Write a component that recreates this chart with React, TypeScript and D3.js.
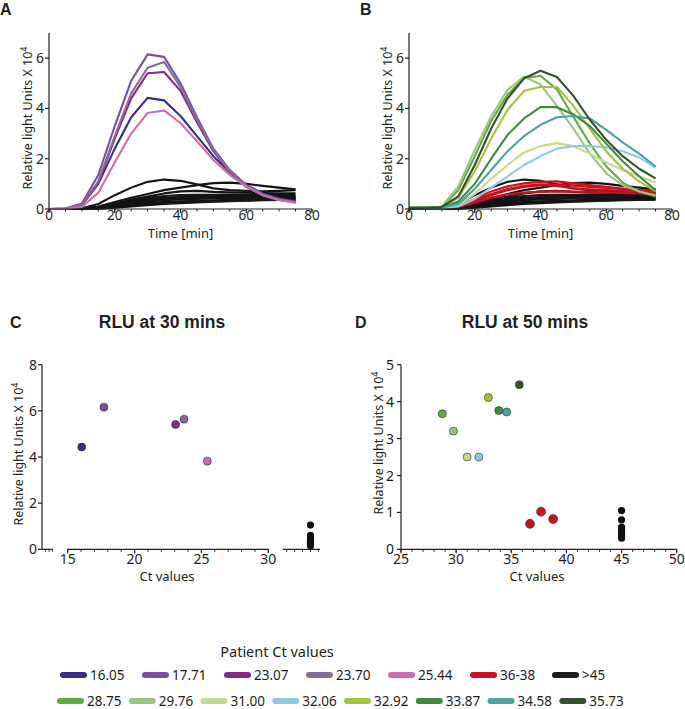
import React from 'react';
import * as d3 from 'd3';

// ---------------- DATA ----------------
const times = [0, 5, 10, 15, 20, 25, 30, 35, 40, 45, 50, 55, 60, 65, 70, 75];

// Panel A: high-viral-load patients
const aLabels = ['16.05', '17.71', '23.07', '23.70', '25.44'];
const aColors = ['#3b2c88', '#7b4ea6', '#86288a', '#8a6b95', '#cc6cae'];
const aValues = [
  [0, 0.01, 0.15, 1.0, 2.4, 3.65, 4.42, 4.32, 3.7, 2.9, 2.1, 1.45, 0.95, 0.62, 0.42, 0.32],
  [0, 0.02, 0.22, 1.35, 3.3, 5.1, 6.15, 6.05, 5.0, 3.65, 2.4, 1.55, 0.95, 0.6, 0.4, 0.28],
  [0, 0.02, 0.17, 1.05, 2.8, 4.4, 5.4, 5.45, 4.7, 3.45, 2.3, 1.45, 0.88, 0.55, 0.37, 0.26],
  [0, 0.02, 0.17, 1.1, 2.9, 4.6, 5.62, 5.85, 4.85, 3.55, 2.35, 1.5, 0.9, 0.55, 0.38, 0.27],
  [0, 0.01, 0.08, 0.65, 1.85, 3.0, 3.82, 3.92, 3.42, 2.7, 1.95, 1.35, 0.9, 0.55, 0.35, 0.25],
];

// Panel B: lower-viral-load patients
const bLabels = ['28.75', '29.76', '31.00', '32.06', '32.92', '33.87', '34.58', '35.73'];
const bColors = ['#62ab3f', '#98c584', '#c5da8b', '#8ecbe2', '#a5c23a', '#3f8a3f', '#4aa3a0', '#36502a'];
const bValues = [
  [0.05, 0.05, 0.08, 0.75, 2.1, 3.5, 4.55, 5.2, 5.3, 4.75, 3.67, 2.6, 1.7, 1.05, 0.7, 0.5],
  [0.05, 0.05, 0.1, 0.89, 2.35, 3.68, 4.74, 5.27, 4.95, 4.1, 3.2, 2.2, 1.42, 0.95, 0.7, 0.55],
  [0.05, 0.05, 0.05, 0.15, 0.6, 1.2, 1.75, 2.25, 2.5, 2.62, 2.5, 2.2, 1.85, 1.55, 1.3, 1.05],
  [0.05, 0.05, 0.05, 0.1, 0.4, 0.85, 1.3, 1.75, 2.1, 2.4, 2.5, 2.5, 2.45, 2.3, 2.05, 1.65],
  [0.05, 0.05, 0.08, 0.45, 1.5, 2.8, 3.95, 4.7, 4.85, 4.85, 4.1, 3.2, 2.3, 1.6, 1.1, 0.7],
  [0.05, 0.05, 0.06, 0.3, 1.0, 2.0, 2.95, 3.6, 4.05, 4.05, 3.76, 3.3, 2.6, 1.9, 1.3, 0.75],
  [0.05, 0.05, 0.05, 0.2, 0.8, 1.55, 2.3, 2.9, 3.35, 3.65, 3.7, 3.6, 3.15, 2.65, 2.2, 1.69],
  [0.05, 0.05, 0.08, 0.5, 1.75, 3.2, 4.4, 5.2, 5.5, 5.25, 4.5, 3.55, 2.75, 2.1, 1.6, 1.22],
];

// Ct 36-38 (red) curves
const redColor = '#cc1020';
const redValues = [
  [0, 0, 0.02, 0.12, 0.4, 0.7, 0.9, 1.02, 1.08, 1.1, 1.02, 0.95, 0.88, 0.8, 0.72, 0.65],
  [0, 0, 0.02, 0.1, 0.3, 0.55, 0.75, 0.88, 0.95, 0.92, 0.82, 0.78, 0.75, 0.72, 0.7, 0.68],
  [0, 0, 0.01, 0.08, 0.25, 0.45, 0.58, 0.65, 0.68, 0.7, 0.69, 0.68, 0.66, 0.64, 0.62, 0.6],
  [0, 0, 0.02, 0.1, 0.35, 0.6, 0.8, 0.92, 0.98, 0.97, 0.93, 0.88, 0.84, 0.8, 0.75, 0.7],
];

// Ct >45 (black) curves
const blackColor = '#141414';
const blackValues = [
  [0, 0, 0.03, 0.2, 0.55, 0.85, 1.08, 1.17, 1.12, 0.98, 0.82, 0.75, 0.72, 0.7, 0.72, 0.75],
  [0, 0, 0.02, 0.1, 0.28, 0.45, 0.6, 0.75, 0.85, 0.95, 1.03, 1.05, 1.0, 0.92, 0.85, 0.78],
  [0, 0, 0.02, 0.08, 0.22, 0.38, 0.5, 0.62, 0.7, 0.72, 0.68, 0.66, 0.65, 0.63, 0.62, 0.62],
  [0, 0, 0.01, 0.06, 0.18, 0.32, 0.45, 0.52, 0.55, 0.56, 0.56, 0.57, 0.57, 0.56, 0.56, 0.55],
  [0, 0, 0.01, 0.05, 0.15, 0.28, 0.4, 0.45, 0.48, 0.5, 0.52, 0.52, 0.52, 0.52, 0.51, 0.5],
  [0, 0, 0.01, 0.04, 0.12, 0.22, 0.35, 0.4, 0.43, 0.45, 0.46, 0.47, 0.48, 0.48, 0.48, 0.48],
  [0, 0, 0.01, 0.03, 0.1, 0.18, 0.3, 0.35, 0.38, 0.4, 0.42, 0.43, 0.44, 0.45, 0.45, 0.45],
  [0, 0, 0, 0.02, 0.08, 0.15, 0.25, 0.28, 0.31, 0.33, 0.35, 0.37, 0.39, 0.4, 0.41, 0.42],
  [0, 0, 0, 0.02, 0.06, 0.12, 0.2, 0.23, 0.26, 0.28, 0.3, 0.32, 0.34, 0.36, 0.37, 0.38],
  [0, 0, 0, 0.01, 0.05, 0.1, 0.15, 0.2, 0.23, 0.26, 0.29, 0.31, 0.33, 0.35, 0.36, 0.37],
];

// Panel C: RLU at 30 mins
const cCt = [16.05, 17.71, 23.07, 23.70, 25.44];
const cRlu = [4.43, 6.16, 5.41, 5.64, 3.82];
const cNegCt = 45;
const cNegRlu = [1.05, 0.6, 0.5, 0.45, 0.4, 0.35, 0.3, 0.25, 0.2, 0.15];

// Panel D: RLU at 50 mins
const dCt = [28.75, 29.76, 31.0, 32.06, 32.92, 33.87, 34.58, 35.73];
const dRlu = [3.67, 3.2, 2.5, 2.5, 4.11, 3.76, 3.72, 4.46];
const dRedCt = [36.7, 37.7, 38.8];
const dRedRlu = [0.69, 1.02, 0.82];
const dNegCt = 45;
const dNegRlu = [1.05, 0.8, 0.6, 0.55, 0.5, 0.45, 0.4, 0.35, 0.3];

// Legend
const legendRow1 = ['16.05', '17.71', '23.07', '23.70', '25.44', '36-38', '>45'];
const legendRow1Colors = [...aColors, redColor, '#1e1e1e'];
const legendRow2 = bLabels;
const legendRow2Colors = bColors;

// Ticks
const timeMajor = [0, 20, 40, 60, 80];
const timeMinor = [0, 5, 10, 15, 20, 25, 30, 35, 40, 45, 50, 55, 60, 65, 70, 75, 80];
const rluTicksAB = [0, 2, 4, 6];
const rluTicksC = [0, 2, 4, 6, 8];
const rluTicksD = [0, 1, 2, 3, 4, 5];
const ctMajorC = [15, 20, 25, 30];
const ctMajorD = [25, 30, 35, 40, 45, 50];

// ---------------- STYLE ----------------
const FONT = "'Noto Sans', 'DejaVu Sans', sans-serif";
const BOLD = "'Liberation Sans', Arial, sans-serif";
const INK = '#231f20';

function YAxis({ x, scale, ticks, size = 14, gap = 5 }: any) {
  const [r0, r1] = scale.range();
  return (
    <g>
      <line x1={x} x2={x} y1={r0} y2={r1} stroke={INK} strokeWidth={1.2} />
      {ticks.map((t: number) => (
        <g key={t}>
          <line x1={x - 4} x2={x} y1={scale(t)} y2={scale(t)} stroke={INK} strokeWidth={1.2} />
          <text x={x - gap} y={scale(t)} dy="0.36em" textAnchor="end" fontSize={size} fontFamily={FONT} fill={INK}>
            {t}
          </text>
        </g>
      ))}
    </g>
  );
}

function XAxis({ y, scale, majors, minors, size = 14, labels = true, span, labelDy = 15 }: any) {
  const [r0, r1] = span || scale.range();
  return (
    <g>
      <line x1={r0} x2={r1} y1={y} y2={y} stroke={INK} strokeWidth={1.2} />
      {minors.map((t: number) => (
        <line key={'m' + t} x1={scale(t)} x2={scale(t)} y1={y} y2={y + 2.5} stroke={INK} strokeWidth={1} />
      ))}
      {majors.map((t: number) => (
        <g key={t}>
          <line x1={scale(t)} x2={scale(t)} y1={y} y2={y + 4} stroke={INK} strokeWidth={1.2} />
          {labels && (
            <text x={scale(t)} y={y + labelDy} textAnchor="middle" fontSize={size} fontFamily={FONT} fill={INK}>
              {t}
            </text>
          )}
        </g>
      ))}
    </g>
  );
}

function YLabel({ x, y }: any) {
  return (
    <text transform={`translate(${x},${y}) rotate(-90)`} textAnchor="middle" fontSize={12.5} fontFamily={FONT} fill={INK}>
      Relative light Units X 10
      <tspan dy={-5} fontSize={9}>4</tspan>
    </text>
  );
}

function CurvePanel({ x0, x1, groups, letter }: any) {
  const x = d3.scaleLinear().domain([0, 80]).range([x0, x1]);
  const y = d3.scaleLinear().domain([0, 7]).range([209, 33]);
  const line = d3
    .line<number>()
    .x((_, i) => x(times[i]))
    .y((d) => y(d));
  return (
    <g>
      <text x={x0 - 49} y={15} fontSize={16} fontWeight="bold" fontFamily={BOLD} fill={INK}>
        {letter}
      </text>
      {groups.map((g: any, gi: number) =>
        g.values.map((v: number[], i: number) => (
          <path
            key={gi + '-' + i}
            d={line(v) || ''}
            fill="none"
            stroke={g.colors ? g.colors[i] : g.color}
            strokeWidth={2.1}
            strokeLinejoin="round"
          />
        ))
      )}
      <YAxis x={x0} scale={y} ticks={rluTicksAB} />
      <XAxis y={209} scale={x} majors={timeMajor} minors={timeMinor} labelDy={11} size={13.5} />
      <text x={x(40)} y={238} textAnchor="middle" fontSize={13} fontFamily={FONT} fill={INK}>
        Time [min]
      </text>
      <YLabel x={x0 - 17} y={118} />
    </g>
  );
}

function Dot({ cx, cy, color, r = 4 }: any) {
  return <circle cx={cx} cy={cy} r={r} fill={color} stroke="#2a2a2a" strokeWidth={0.6} />;
}

export default function App() {
  // Panel C scales (broken x-axis)
  const yC = d3.scaleLinear().domain([0, 8]).range([549.3, 364.7]);
  const xCstub = d3.scaleLinear().domain([0, 3.1]).range([42, 53]);
  const xC = d3.scaleLinear().domain([15, 30]).range([67.7, 268.3]);
  const xC2 = d3.scaleLinear().domain([41.5, 46.2]).range([282.7, 320]);
  const ctMinorC = d3.range(15, 31, 1);

  // Panel D scales
  const yD = d3.scaleLinear().domain([0, 5]).range([549.3, 364.7]);
  const xD = d3.scaleLinear().domain([25, 50]).range([401, 676.7]);
  const ctMinorD = d3.range(25, 51, 1);

  // Legend layout
  const lx1 = d3.scalePoint<string>().domain(legendRow1).range([60, 552]);
  const lx2 = d3.scalePoint<string>().domain(legendRow2).range([57, 559.3]);

  return (
    <svg
      width={685}
      height={709}
      style={{ position: 'absolute', left: 0, top: 0, background: '#fff' }}
      fontFamily={FONT}
    >
      <rect x={0} y={0} width={685} height={709} fill="#fff" />
      <CurvePanel
        x0={49}
        x1={312}
        letter="A"
        groups={[
          { values: blackValues, color: blackColor },
          { values: aValues, colors: aColors },
        ]}
      />
      <CurvePanel
        x0={409}
        x1={672}
        letter="B"
        groups={[
          { values: blackValues, color: blackColor },
          { values: redValues, color: redColor },
          { values: bValues, colors: bColors },
        ]}
      />

      {/* Panel C */}
      <g>
        <text x={10} y={328} fontSize={16} fontWeight="bold" fontFamily={BOLD} fill={INK}>C</text>
        <text x={162} y={328} textAnchor="middle" fontSize={17.5} fontWeight="bold" fontFamily={BOLD} fill={INK}>
          RLU at 30 mins
        </text>
        <YAxis x={42} scale={yC} ticks={rluTicksC} />
        <XAxis y={549.3} scale={xCstub} majors={[]} minors={[1, 2, 3]} labels={false} />
        <XAxis y={549.3} scale={xC} majors={ctMajorC} minors={ctMinorC} />
        <XAxis y={549.3} scale={xC2} majors={[]} minors={[42, 43, 44, 45, 46]} labels={false} />
        <text x={167} y={581} textAnchor="middle" fontSize={13} fontFamily={FONT} fill={INK}>
          Ct values
        </text>
        <YLabel x={23} y={454} />
        {cNegRlu.map((v, i) => (
          <circle key={'cn' + i} cx={xC2(cNegCt)} cy={yC(v)} r={3.6} fill="#111" />
        ))}
        {cCt.map((c, i) => (
          <Dot key={'c' + i} cx={xC(c)} cy={yC(cRlu[i])} color={aColors[i]} />
        ))}
      </g>

      {/* Panel D */}
      <g>
        <text x={355} y={328} fontSize={16} fontWeight="bold" fontFamily={BOLD} fill={INK}>D</text>
        <text x={525} y={328} textAnchor="middle" fontSize={17.5} fontWeight="bold" fontFamily={BOLD} fill={INK}>
          RLU at 50 mins
        </text>
        <YAxis x={401} scale={yD} ticks={rluTicksD} gap={7} />
        <XAxis y={549.3} scale={xD} majors={ctMajorD} minors={ctMinorD} />
        <text x={537} y={581} textAnchor="middle" fontSize={13} fontFamily={FONT} fill={INK}>
          Ct values
        </text>
        <YLabel x={383} y={443} />
        {dNegRlu.map((v, i) => (
          <circle key={'dn' + i} cx={xD(dNegCt)} cy={yD(v)} r={3.6} fill="#111" />
        ))}
        {dRedCt.map((c, i) => (
          <Dot key={'dr' + i} cx={xD(c)} cy={yD(dRedRlu[i])} color={redColor} r={4.5} />
        ))}
        {dCt.map((c, i) => (
          <Dot key={'d' + i} cx={xD(c)} cy={yD(dRlu[i])} color={bColors[i]} />
        ))}
      </g>

      {/* Legend */}
      <g>
        <text x={277} y={657} textAnchor="middle" fontSize={14.5} fontFamily={FONT} fill={INK}>
          Patient Ct values
        </text>
        {legendRow1.map((l, i) => {
          const x = lx1(l) as number;
          return (
            <g key={'l1' + l}>
              <line x1={x + 3} x2={x + 24} y1={675} y2={675} stroke={legendRow1Colors[i]} strokeWidth={6} strokeLinecap="round" />
              <text x={x + 30} y={680} fontSize={13.5} fontFamily={FONT} fill={INK}>{l}</text>
            </g>
          );
        })}
        {legendRow2.map((l, i) => {
          const x = lx2(l) as number;
          return (
            <g key={'l2' + l}>
              <line x1={x + 3} x2={x + 24} y1={701} y2={701} stroke={legendRow2Colors[i]} strokeWidth={6} strokeLinecap="round" />
              <text x={x + 30} y={706} fontSize={13.5} fontFamily={FONT} fill={INK}>{l}</text>
            </g>
          );
        })}
      </g>
    </svg>
  );
}
